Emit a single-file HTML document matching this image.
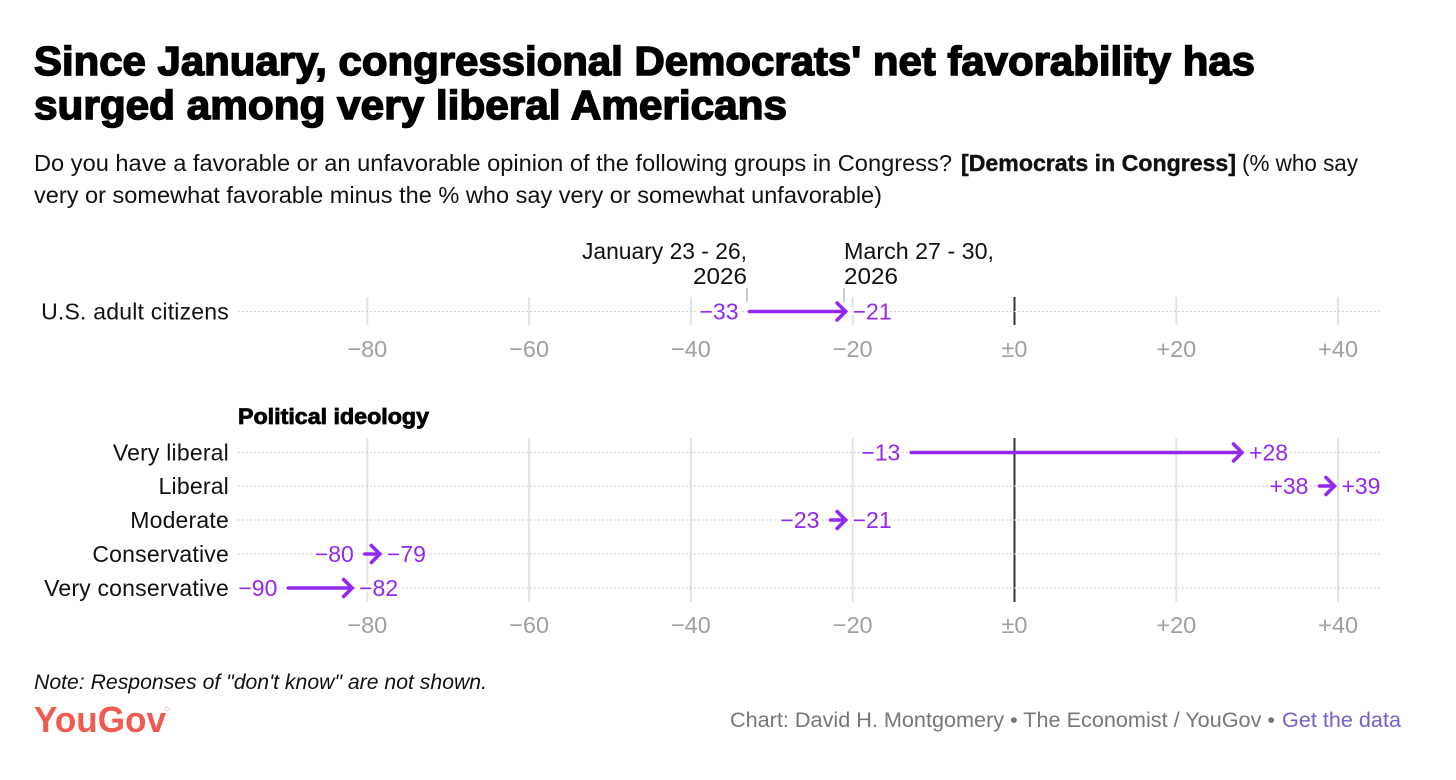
<!DOCTYPE html>
<html lang="en">
<head>
<meta charset="utf-8">
<title>Democrats in Congress net favorability</title>
<style>
html,body{margin:0;padding:0;background:#fff;}
svg{display:block;font-family:"Liberation Sans",Arial,sans-serif;}
.title{font-size:41px;font-weight:700;fill:#000;stroke:#000;stroke-width:1.5px;}
.sub{font-size:23px;fill:#111;}
.row-label{font-size:23px;fill:#111;text-anchor:end;letter-spacing:.2px;}
.tick{font-size:23.5px;fill:#a0a0a0;text-anchor:middle;}
.val{font-size:23px;fill:#9328ee;stroke:#fff;stroke-width:5px;paint-order:stroke;stroke-linejoin:round;}
.date{font-size:23px;fill:#111;}
</style>
</head>
<body>
<svg id="chart" width="1456" height="780" viewBox="0 0 1456 780" xmlns="http://www.w3.org/2000/svg">
  <rect width="1456" height="780" fill="#fff"/>
  <text class="title" x="34" y="75" textLength="1221" lengthAdjust="spacingAndGlyphs">Since January, congressional Democrats' net favorability has</text>
  <text class="title" x="34" y="119" textLength="753" lengthAdjust="spacingAndGlyphs">surged among very liberal Americans</text>
  <text class="sub" x="34" y="171" textLength="918" lengthAdjust="spacingAndGlyphs">Do you have a favorable or an unfavorable opinion of the following groups in Congress?</text>
  <text class="sub" x="961" y="171" font-weight="700" stroke="#111" stroke-width="0.4" textLength="275" lengthAdjust="spacingAndGlyphs">[Democrats in Congress]</text>
  <text class="sub" x="1242" y="171" textLength="116" lengthAdjust="spacingAndGlyphs">(% who say</text>
  <text class="sub" x="34" y="203" textLength="848" lengthAdjust="spacingAndGlyphs">very or somewhat favorable minus the % who say very or somewhat unfavorable)</text>

  <g id="grid"></g>
  <g id="rows"></g>
  <g id="ticks"></g>

  <text class="date" x="747" y="259" text-anchor="end" textLength="165" lengthAdjust="spacingAndGlyphs">January 23 - 26,</text>
  <text class="date" x="747" y="284" text-anchor="end" textLength="54" lengthAdjust="spacingAndGlyphs">2026</text>
  <text class="date" x="844" y="259" textLength="150" lengthAdjust="spacingAndGlyphs">March 27 - 30,</text>
  <text class="date" x="844" y="284" textLength="54" lengthAdjust="spacingAndGlyphs">2026</text>
  <line x1="747" x2="747" y1="288" y2="302" stroke="#999" stroke-width="1"/>
  <line x1="844" x2="844" y1="288" y2="302" stroke="#999" stroke-width="1"/>

  <text x="238" y="424" font-size="22" font-weight="700" fill="#000" stroke="#000" stroke-width="0.8" textLength="191" lengthAdjust="spacingAndGlyphs">Political ideology</text>

  <g id="marks"></g>

  <text x="34" y="689" font-size="21.5" font-style="italic" fill="#111" textLength="453" lengthAdjust="spacingAndGlyphs">Note: Responses of "don't know" are not shown.</text>
  <text x="34" y="732" font-size="36" font-weight="700" fill="#ef5b50" textLength="132" lengthAdjust="spacingAndGlyphs">YouGov</text>
  <circle cx="167" cy="709" r="2" fill="none" stroke="#f6b5ae" stroke-width="0.7"/>
  <text x="730" y="727" font-size="21" fill="#777" textLength="545" lengthAdjust="spacingAndGlyphs">Chart: David H. Montgomery • The Economist / YouGov •</text>
  <text x="1282" y="727" font-size="21" fill="#6f63c6" textLength="119" lengthAdjust="spacingAndGlyphs">Get the data</text>
</svg>
<script>
const categories = ["U.S. adult citizens", "Very liberal", "Liberal", "Moderate", "Conservative", "Very conservative"];
const januaryValues = [-33, -13, 38, -23, -80, -90];
const marchValues = [-21, 28, 39, -21, -79, -82];
const tickValues = [-80, -60, -40, -20, 0, 20, 40];

const NS = "http://www.w3.org/2000/svg";
const rowY = [311.5, 452.5, 486, 520, 554, 588];
const PURPLE = "#9328ee";
function x(v){ return 1014.5 + v * 8.09; }
function fmt(v){ return v === 0 ? "±0" : (v > 0 ? "+" + v : "−" + Math.abs(v)); }
function mk(tag, parent, attrs){
  const el = document.createElementNS(NS, tag);
  for (const k in attrs) el.setAttribute(k, attrs[k]);
  parent.appendChild(el);
  return el;
}
const grid = document.getElementById("grid");
const rows = document.getElementById("rows");
const ticks = document.getElementById("ticks");
const marks = document.getElementById("marks");
const panels = [[297, 325, 357], [438, 602, 633]];

panels.forEach(function(p){
  tickValues.forEach(function(t){
    const line = mk("line", grid, {x1:x(t), x2:x(t), y1:p[0], y2:p[1], stroke:"#e3e3e3", "stroke-width":2});
    
    
    const label = mk("text", ticks, {class:"tick", x:x(t), y:p[2]});
    label.textContent = fmt(t);
    
    
  });
});
panels.forEach(function(p){
  const zero = mk("line", grid, {x1:x(0), x2:x(0), y1:p[0], y2:p[1], stroke:"#333", "stroke-width":2});
  
  
});

categories.forEach(function(c, i){
  const y = rowY[i];
  const guide = mk("line", rows, {x1:238, x2:1380, y1:y, y2:y, stroke:"#c8c8c8", "stroke-width":1.3, "stroke-dasharray":"1.5 2.5"});
  
  

  const rowLabel = mk("text", rows, {class:"row-label", x:229, y:y + 8});
  rowLabel.textContent = c;
  
  

  let a = x(januaryValues[i]) + 2;
  let b = x(marchValues[i]) + 1;
  if (b - a < 14) { const m = (a + b) / 2 - 0.5; a = m - 7.5; b = m + 7.5; }

  const startLabel = mk("text", marks, {class:"val", x:a - 11, y:y + 8, "text-anchor":"end"});
  startLabel.textContent = fmt(januaryValues[i]);
  
  

  const endLabel = mk("text", marks, {class:"val", x:b + 7, y:y + 8});
  endLabel.textContent = fmt(marchValues[i]);
  
  

  const shaft = mk("line", marks, {x1:a, x2:b - 1.5, y1:y, y2:y, stroke:PURPLE, "stroke-width":3.6, "stroke-linecap":"round"});
  
  

  const head = mk("polyline", marks, {points:(b - 8.5) + "," + (y - 8.5) + " " + b + "," + y + " " + (b - 8.5) + "," + (y + 8.5), fill:"none", stroke:PURPLE, "stroke-width":3.6, "stroke-linecap":"round", "stroke-linejoin":"miter"});
  
  
});
</script>
</body>
</html>
